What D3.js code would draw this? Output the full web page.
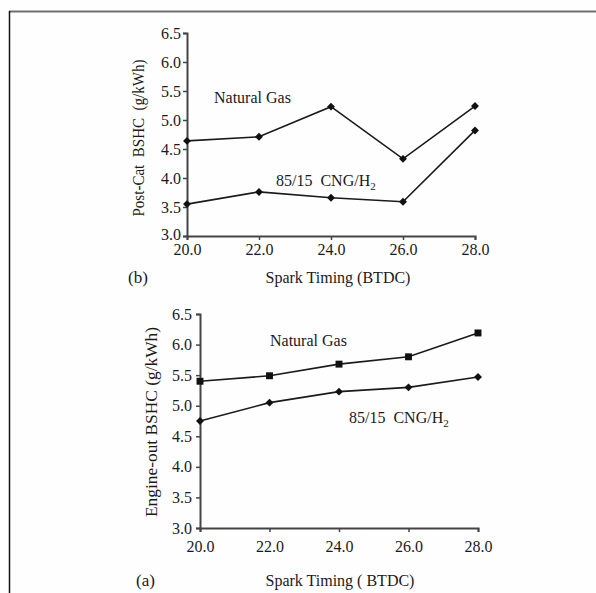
<!DOCTYPE html>
<html>
<head>
<meta charset="utf-8">
<script src="https://cdn.jsdelivr.net/npm/d3@7"></script>
<style>
  body { margin: 0; background: #fff; }
  svg { display: block; }
  text { font-family: "Liberation Serif", "Times New Roman", serif; fill: #1a1a1a; }
</style>
</head>
<body>
<svg width="596" height="593"></svg>
<script>
// data
var timing = [20, 22, 24, 26, 28]
var xTicks = [20, 22, 24, 26, 28]
var yTicks = [3.0, 3.5, 4.0, 4.5, 5.0, 5.5, 6.0, 6.5]

// (b) post-cat
var postCatNG = [4.64, 4.71, 5.23, 4.33, 5.24]
var postCatCNG = [3.55, 3.76, 3.66, 3.59, 4.82]

// (a) engine-out
var engineOutNG = [5.40, 5.49, 5.68, 5.80, 6.19]
var engineOutCNG = [4.75, 5.05, 5.23, 5.30, 5.47]

var svg = d3.select('svg')

// frame
svg.append('rect').attr('x', 0).attr('y', 0).attr('width', 596).attr('height', 593).attr('fill', '#fefefe')
svg.append('line').attr('x1', 9).attr('x2', 596).attr('y1', 11.5).attr('y2', 11.5)
    .attr('stroke', '#6e6e6e').attr('stroke-width', 2)
svg.append('line').attr('x1', 9.5).attr('x2', 9.5).attr('y1', 11).attr('y2', 593)
    .attr('stroke', '#111').attr('stroke-width', 1.5)

var diamond = d3.symbol().type(d3.symbolDiamond2).size(40)
var square = d3.symbol().type(d3.symbolSquare).size(48)

function panel(opt) {
    var x = d3.scaleLinear().domain([20, 28]).range(opt.xr)
    var y = d3.scaleLinear().domain([3, 6.5]).range(opt.yr)
    var g = svg.append('g')

    var ya = g.append('g').attr('transform', 'translate(' + opt.xr[0] + ',0)')
        .call(d3.axisLeft(y).tickValues(yTicks).tickFormat(d3.format('.1f')).tickSizeOuter(0).tickSize(4).tickPadding(opt.yPad))
    var xa = g.append('g').attr('transform', 'translate(0,' + opt.yr[0] + ')')
        .call(d3.axisBottom(x).tickValues(xTicks).tickFormat(d3.format('.1f')).tickSizeOuter(0).tickSize(4))
    xa.selectAll('text').attr('y', opt.xTextY)
    // lowest y label sits right above the x labels, lift it a touch
    ya.selectAll('.tick text').filter(function (d) { return d === 3 }).attr('dy', opt.lowDy)
    ;[ya, xa].forEach(function (a) {
        a.select('.domain').attr('stroke', '#444').attr('stroke-width', 2)
        a.selectAll('.tick line').attr('stroke', '#444').attr('stroke-width', 1.5)
        a.selectAll('text').style('font-size', '16px').attr('fill', '#1a1a1a')
    })

    var line = d3.line().x(function (d, i) { return x(timing[i]) }).y(function (d) { return y(d) })
    opt.series.forEach(function (s) {
        g.append('path').datum(s.values).attr('d', line)
            .attr('fill', 'none').attr('stroke', '#1a1a1a').attr('stroke-width', 1.6)
        g.selectAll(null).data(s.values).enter().append('path')
            .attr('d', s.sym)
            .attr('transform', function (d, i) { return 'translate(' + x(timing[i]) + ',' + y(d) + ')' })
            .attr('fill', '#111')
    })

    // labels
    g.append('text').attr('x', opt.ngLabel[0]).attr('y', opt.ngLabel[1])
        .style('font-size', '16px').text('Natural Gas')
    var t = g.append('text').attr('x', opt.cngLabel[0]).attr('y', opt.cngLabel[1])
        .style('font-size', '16px').attr('xml:space', 'preserve')
    t.append('tspan').text('85/15  CNG/H')
    t.append('tspan').attr('dy', 4).style('font-size', '11px').text('2')

    g.append('text')
        .attr('transform', 'translate(' + opt.yTitle[0] + ',' + opt.yTitle[1] + ') rotate(-90)')
        .attr('text-anchor', 'middle').style('font-size', '16px').attr('xml:space', 'preserve')
        .attr('textLength', opt.yTitleLen).attr('lengthAdjust', 'spacingAndGlyphs')
        .text(opt.yTitleText)
    g.append('text').attr('x', opt.xTitle[0]).attr('y', opt.xTitle[1])
        .attr('text-anchor', 'middle').style('font-size', '16px').attr('xml:space', 'preserve')
        .text(opt.xTitleText)
    g.append('text').attr('x', opt.tag[0]).attr('y', opt.tag[1])
        .style('font-size', '17px').text(opt.tagText)
}

panel({
    xr: [187, 475], yr: [236, 33], yPad: 2, xTextY: 8, lowDy: '0.2em',
    series: [{ values: postCatNG, sym: diamond }, { values: postCatCNG, sym: diamond }],
    ngLabel: [214, 103], cngLabel: [276, 186],
    yTitle: [144, 138], yTitleLen: 157, yTitleText: 'Post-Cat  BSHC  (g/kWh)',
    xTitle: [338, 283], xTitleText: 'Spark Timing (BTDC)',
    tag: [128, 283], tagText: '(b)'
})

panel({
    xr: [200, 478], yr: [528, 314], yPad: 4, xTextY: 13, lowDy: '0.32em',
    series: [{ values: engineOutNG, sym: square }, { values: engineOutCNG, sym: diamond }],
    ngLabel: [270, 346], cngLabel: [349, 423],
    yTitle: [157, 422], yTitleLen: 190, yTitleText: 'Engine-out BSHC (g/kWh)',
    xTitle: [340, 586], xTitleText: 'Spark Timing ( BTDC)',
    tag: [136, 586], tagText: '(a)'
})
</script>
</body>
</html>
